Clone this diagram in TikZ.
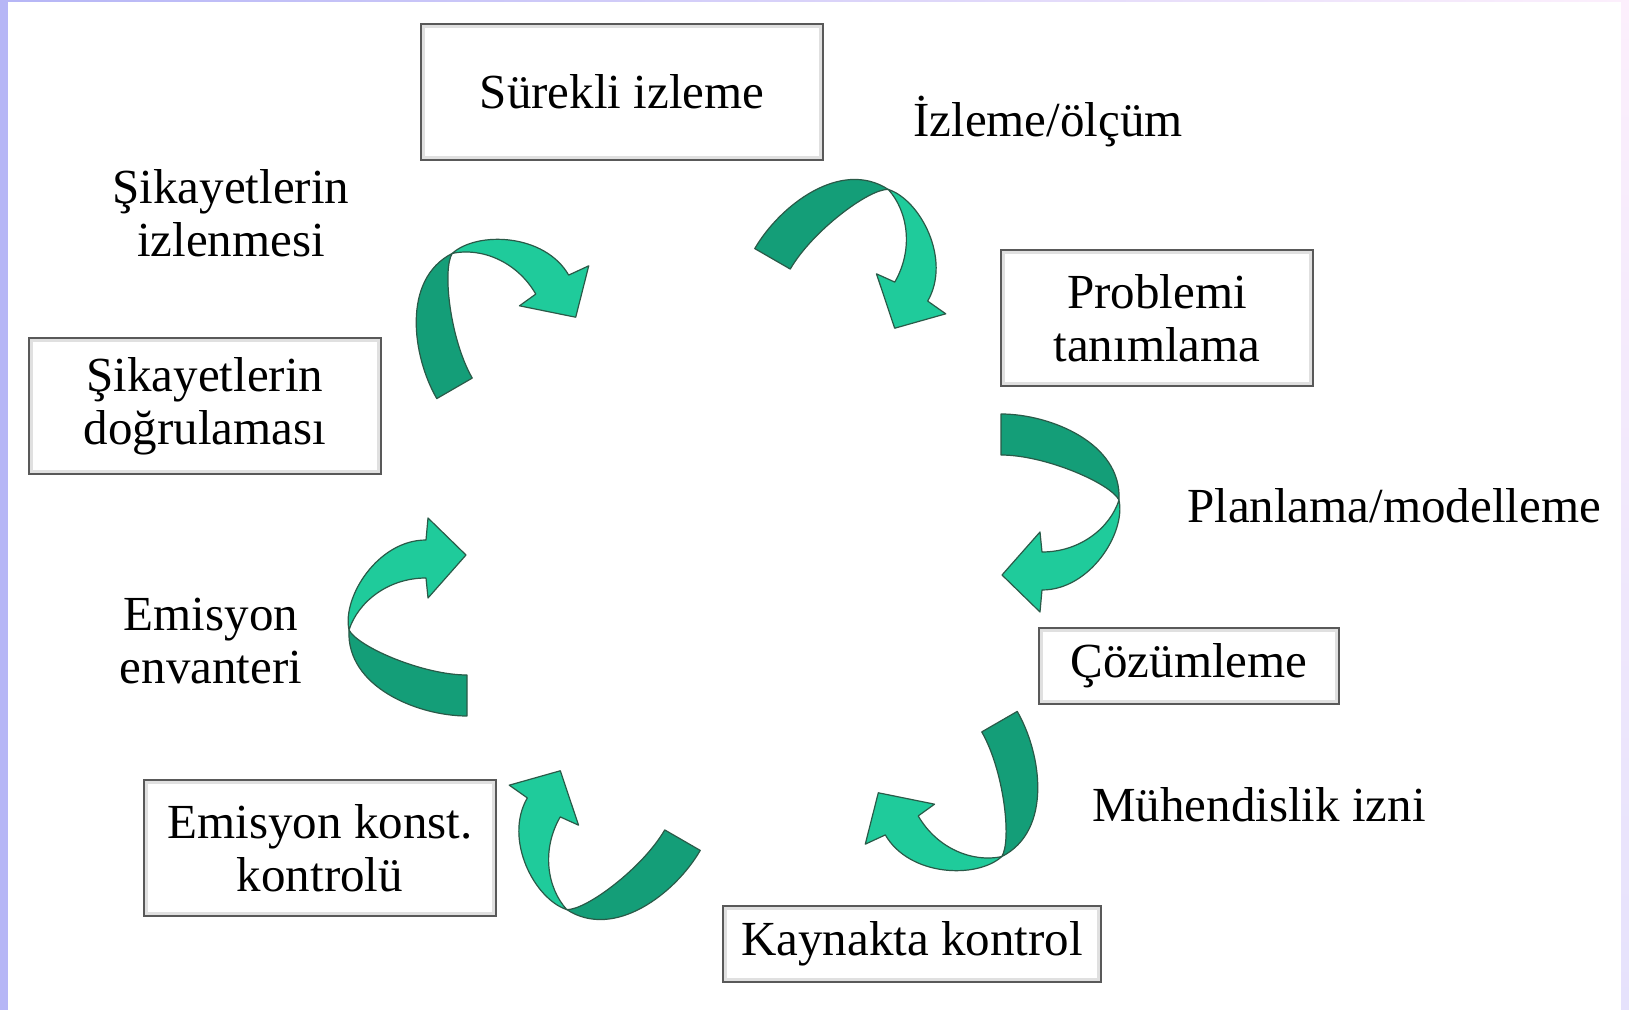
\documentclass[tikz,border=0pt]{standalone}
\usepackage{fontspec}
\setmainfont{Liberation Serif}
\usepackage{tikz}

\definecolor{ribbondark}{HTML}{149E78}
\definecolor{ribbonlight}{HTML}{1FCB9B}
\definecolor{ribbonedge}{HTML}{2A5A48}
\definecolor{framelav}{HTML}{B6B6F6}
\definecolor{framepink}{HTML}{FCEFFC}
\definecolor{framelavlight}{HTML}{E6E2FC}

\begin{document}
\begin{tikzpicture}[x=0.5pt,y=-0.5pt,
    every node/.style={font=\fontsize{24.5}{26.5}\selectfont, align=center},
    stepbox/.style={draw=black!65, line width=1pt, fill=white, inner sep=0pt,
      path picture={\draw[black!12, line width=4pt] (path picture bounding box.south west)
        rectangle (path picture bounding box.north east);}},
    ribbonback/.style={fill=ribbondark, draw=ribbonedge, line width=0.6pt, line join=round},
    ribbonfront/.style={fill=ribbonlight, draw=ribbonedge, line width=0.6pt, line join=round},
    ribbon/.pic={
      \filldraw[ribbonback] (-59,-99) .. controls (-10,-99) and (62,-70) .. (59,-13)
        .. controls (50,-30) and (-15,-58) .. (-59,-58) -- cycle;
      \filldraw[ribbonfront] (59,-13) .. controls (66,20) and (30,77) .. (-18,77)
        -- (-20,99) -- (-58,62) -- (-20,19) -- (-18,39)
        .. controls (20,39) and (50,15) .. (59,-13) -- cycle;
    }]

  % page frame
  \fill[white] (0,0) rectangle (1629,1010);
  \fill[framelav] (0,0) rectangle (8,1010);
  \shade[left color=framelav, right color=framepink] (8,0) rectangle (1621,2);
  \shade[top color=framepink, bottom color=framelavlight] (1621,0) rectangle (1629,1010);

  % steps of the cycle
  \node[stepbox, minimum width=201pt, minimum height=68pt] (surekli) at (622,92) {Sürekli izleme};
  \node[stepbox, minimum width=156pt, minimum height=68pt] (problem) at (1157,318) {Problemi\\tanımlama};
  \node[stepbox, minimum width=150pt, minimum height=38pt] (cozum) at (1189,666) {Çözümleme};
  \node[stepbox, minimum width=189pt, minimum height=38pt] (kaynak) at (912,944) {Kaynakta kontrol};
  \node[stepbox, minimum width=176pt, minimum height=68pt] (konst) at (320,848) {Emisyon konst.\\kontrolü};
  \node[stepbox, minimum width=176pt, minimum height=68pt] (dogrulama) at (205,406) {Şikayetlerin\\doğrulaması};

  % labels between the steps
  \node (olcum) at (1048,122) {İzleme/ölçüm};
  \node (planlama) at (1394,506) {Planlama/modelleme};
  \node (izin) at (1259,805) {Mühendislik izni};
  \node (envanter) at (211,641) {Emisyon\\envanteri};
  \node (sikayet) at (231,213) {Şikayetlerin\\izlenmesi};

  % turning arrows
  \pic[rotate=0] at (1060,513) {ribbon};
  \pic[rotate=60] at (870,247) {ribbon};
  \pic[rotate=120] at (493,298) {ribbon};
  \pic[rotate=180] at (408,617) {ribbon};
  \pic[rotate=240] at (585,852) {ribbon};
  \pic[rotate=300] at (961,812) {ribbon};
\end{tikzpicture}
\end{document}
